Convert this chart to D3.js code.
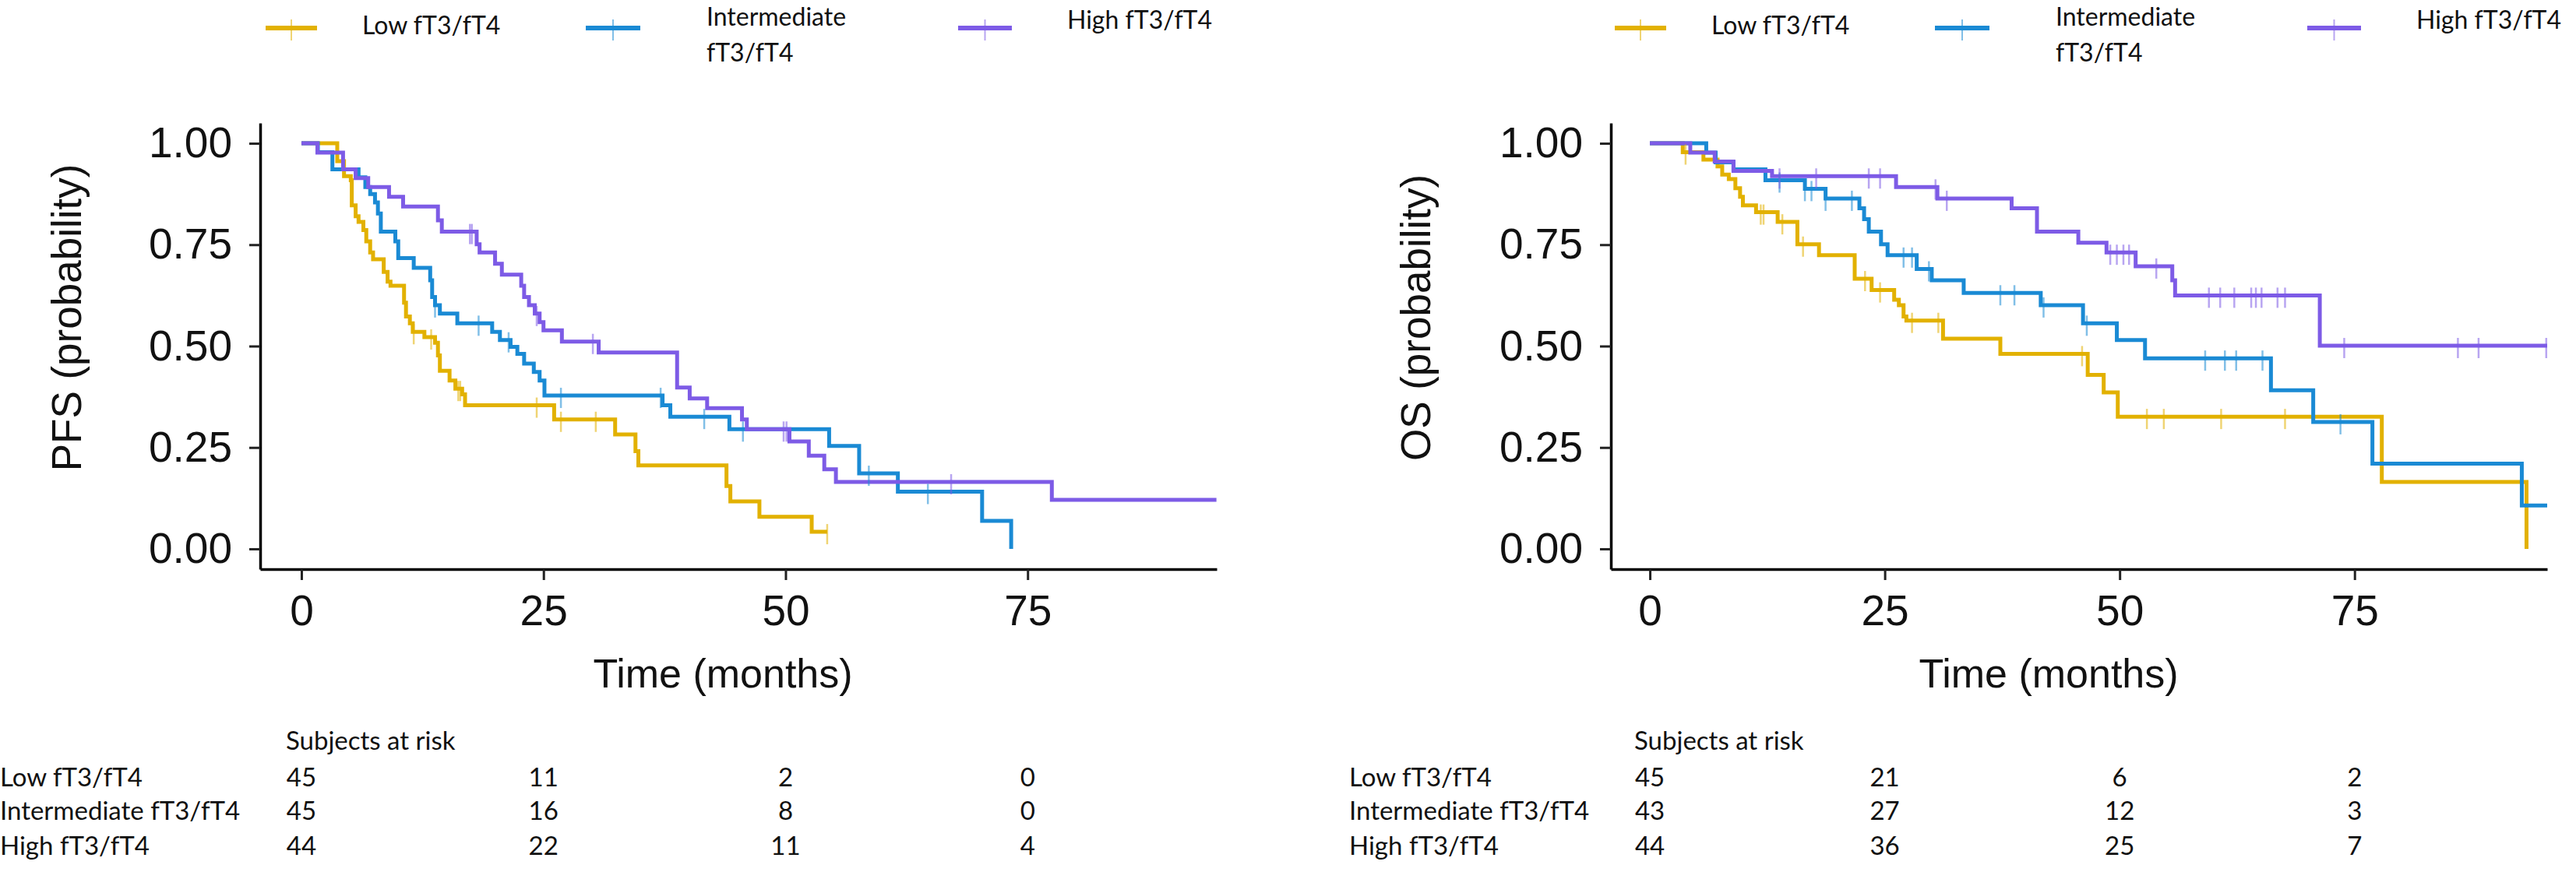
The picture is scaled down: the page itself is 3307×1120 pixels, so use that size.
<!DOCTYPE html>
<html><head><meta charset="utf-8">
<script src="https://cdn.jsdelivr.net/npm/d3@7"></script>
<style>body{margin:0;background:#fff;} svg{display:block;background:#fff}</style>
</head><body>
<svg id="c" width="3307" height="1120"></svg>
<script>
// ---------- data ----------
const groups = ["Low fT3/fT4", "Intermediate fT3/fT4", "High fT3/fT4"];
const colors = ["#E2B100", "#1A8AD4", "#7D5BE6"];
const xTicks = [0, 25, 50, 75];
const yTicks = [0, 0.25, 0.5, 0.75, 1];
const riskTimes = [0, 25, 50, 75];

// PFS (left)
const pfsLowTime = [0,3.7,4.4,5.1,5.2,5.6,5.9,6.4,6.7,7.1,7.4,8.5,8.9,9.2,10.6,10.8,11.2,11.5,12.7,13.8,14.1,14.3,15.3,15.9,16.6,16.9,26.1,32.4,34.5,34.8,43.9,44.3,47.3,52.7,54.3];
const pfsLowSurv = [1,0.956,0.919,0.909,0.847,0.820,0.806,0.786,0.758,0.731,0.714,0.683,0.659,0.649,0.607,0.573,0.556,0.535,0.522,0.508,0.477,0.439,0.415,0.395,0.381,0.354,0.319,0.282,0.241,0.206,0.155,0.117,0.079,0.042,0.042];
const pfsLowCensor = [11.6,13.4,16.2,16.4,24.3,26.8,30.4,54.3];

const pfsInterTime = [0,1.7,3.2,5.9,6.6,7.1,7.6,7.9,8.2,9.7,10.0,11.6,13.3,13.5,13.8,14.3,16.1,19.7,20.5,21.6,22.3,23.0,24.0,24.6,25.1,37.3,38.1,44.2,54.5,57.6,61.6,70.3,73.3];
const pfsInterSurv = [1,0.978,0.936,0.916,0.892,0.875,0.854,0.827,0.782,0.758,0.717,0.693,0.662,0.621,0.601,0.580,0.556,0.535,0.515,0.498,0.481,0.457,0.436,0.415,0.378,0.354,0.326,0.295,0.254,0.186,0.141,0.069,0];
const pfsInterCensor = [13.8,18.3,21.4,26.8,37.1,41.6,45.6,58.6,64.7];

const pfsHighTime = [0,1.65,4.3,5.6,6.9,9.05,10.5,14.1,14.5,18.1,18.4,20.0,20.7,22.7,23.0,23.5,24.1,24.6,25.0,26.9,30.7,38.8,40.1,41.9,45.5,46.0,50.4,52.4,54.0,55.2,77.5,94.5];
const pfsHighSurv = [1,0.977,0.936,0.914,0.892,0.868,0.844,0.81,0.782,0.751,0.731,0.703,0.676,0.649,0.621,0.601,0.580,0.559,0.539,0.511,0.484,0.398,0.371,0.347,0.319,0.295,0.265,0.230,0.196,0.165,0.121,0.121];
const pfsHighCensor = [17.4,17.6,24.3,30.1,49.8,50.1,67.1];

// OS (right)
const osLowTime = [0,3.5,5.7,7.2,7.7,8.4,9.1,9.6,9.9,11.3,13.6,15.7,18.0,21.8,23.6,26.0,26.5,27.0,27.3,31.2,37.3,46.6,48.3,49.8,77.9,93.3];
const osLowSurv = [1,0.978,0.960,0.943,0.923,0.912,0.889,0.868,0.847,0.830,0.806,0.751,0.724,0.666,0.638,0.614,0.601,0.573,0.563,0.518,0.481,0.429,0.386,0.326,0.165,0];
const osLowCensor = [3.8,11.8,12.1,14.1,16.3,22.9,24.5,27.9,30.7,46.0,52.9,54.7,60.8,67.6];

const osInterTime = [0,6.0,7.0,8.9,12.3,16.5,18.7,22.3,22.8,23.3,24.6,25.3,28.4,30.0,33.4,41.6,46.1,49.7,52.7,66.1,70.6,76.9,92.8,95.5];
const osInterSurv = [1,0.977,0.953,0.936,0.909,0.888,0.864,0.840,0.813,0.782,0.751,0.724,0.690,0.662,0.631,0.601,0.556,0.515,0.470,0.391,0.313,0.210,0.107,0.107];
const osInterCensor = [13.8,16.5,17.2,18.7,21.5,27.0,27.9,29.7,37.3,38.8,41.9,46.5,59.1,61.2,62.4,65.2,73.5];

const osHighTime = [0,4.3,6.9,8.9,13.0,26.2,30.6,38.5,41.2,45.6,48.6,51.7,55.6,55.9,71.3,95.5];
const osHighSurv = [1,0.977,0.955,0.932,0.919,0.892,0.864,0.840,0.782,0.755,0.731,0.697,0.662,0.625,0.501,0.501];
const osHighCensor = [13.8,17.7,23.3,24.5,30.4,31.6,49.0,49.7,50.4,51.0,53.9,59.5,60.7,62.2,64.0,64.5,65.1,66.8,67.6,73.9,86.0,88.2,95.4];

// numbers at risk
const pfsRiskLow = [45, 11, 2, 0];
const pfsRiskInter = [45, 16, 8, 0];
const pfsRiskHigh = [44, 22, 11, 4];
const osRiskLow = [45, 21, 6, 2];
const osRiskInter = [43, 27, 12, 3];
const osRiskHigh = [44, 36, 25, 7];

// ---------- drawing ----------
const svg = d3.select("#c");
const TICKFONT = "'Liberation Sans', Arial, sans-serif";
const TABFONT = "Lato, 'Open Sans', sans-serif";

const panels = [
  { ox: 0, x0: 334, x1: 1562, dom: [-4.26, 94.53], ytitle: "PFS (probability)", xtitleX: 928,
    series: [[pfsLowTime, pfsLowSurv, pfsLowCensor], [pfsInterTime, pfsInterSurv, pfsInterCensor], [pfsHighTime, pfsHighSurv, pfsHighCensor]],
    risk: [pfsRiskLow, pfsRiskInter, pfsRiskHigh] },
  { ox: 1732, x0: 2068, x1: 3270, dom: [-4.15, 95.5], ytitle: "OS (probability)", xtitleX: 2630,
    series: [[osLowTime, osLowSurv, osLowCensor], [osInterTime, osInterSurv, osInterCensor], [osHighTime, osHighSurv, osHighCensor]],
    risk: [osRiskLow, osRiskInter, osRiskHigh] }
];

const yTop = 158, yBot = 731;

function survAt(times, surv, t) {
  let v = surv[0];
  for (let i = 0; i < times.length; i++) { if (times[i] <= t + 1e-9) v = surv[i]; }
  return v;
}

panels.forEach(p => {
  const x = d3.scaleLinear().domain(p.dom).range([p.x0, p.x1]);
  const y = d3.scaleLinear().domain([-0.05, 1.05]).range([yBot, yTop]);
  const g = svg.append("g");

  // curves
  const line = d3.line().x(d => x(d[0])).y(d => y(d[1])).curve(d3.curveStepAfter);
  p.series.forEach((s, i) => {
    const pts = s[0].map((t, k) => [t, s[1][k]]);
    g.append("path").attr("d", line(pts)).attr("fill", "none")
      .attr("stroke", colors[i]).attr("stroke-width", 5).attr("stroke-linejoin", "miter");
  });
  // censor marks
  p.series.forEach((s, i) => {
    g.selectAll(null).data(s[2]).enter().append("line")
      .attr("x1", d => x(d)).attr("x2", d => x(d))
      .attr("y1", d => y(survAt(s[0], s[1], d)) - 10)
      .attr("y2", d => y(survAt(s[0], s[1], d)) + 16)
      .attr("stroke", colors[i]).attr("stroke-opacity", 0.55).attr("stroke-width", 2.5);
  });

  // axes
  const ya = g.append("g").attr("transform", `translate(${p.x0},0)`)
    .call(d3.axisLeft(y).tickValues(yTicks).tickFormat(d3.format(".2f")).tickSize(14).tickPadding(22).tickSizeOuter(0));
  const xa = g.append("g").attr("transform", `translate(0,${yBot})`)
    .call(d3.axisBottom(x).tickValues(xTicks).tickFormat(d3.format("d")).tickSize(14).tickPadding(19).tickSizeOuter(0));
  [ya, xa].forEach(a => {
    a.select(".domain").attr("stroke", "#000").attr("stroke-width", 3.5);
    a.selectAll(".tick line").attr("stroke", "#222").attr("stroke-width", 3);
    a.selectAll(".tick text").attr("fill", "#111").style("font-family", TICKFONT).style("font-size", "55px");
  });

  // axis titles
  g.append("text").attr("x", p.xtitleX).attr("y", 883).attr("text-anchor", "middle")
    .style("font-family", TICKFONT).style("font-size", "52px").attr("fill", "#111").text("Time (months)");
  g.append("text").attr("transform", `translate(${p.ox + 104},408) rotate(-90)`).attr("text-anchor", "middle")
    .style("font-family", TICKFONT).style("font-size", "53px").attr("fill", "#111").text(p.ytitle);

  // legend
  const ox = p.ox;
  const legKeys = [[341, 407], [752, 822], [1230, 1299]];
  const legText = [[465, [44], ["Low fT3/fT4"]], [907, [33, 79], ["Intermediate", "fT3/fT4"]], [1370, [37], ["High fT3/fT4"]]];
  groups.forEach((gname, i) => {
    const k = legKeys[i];
    g.append("line").attr("x1", ox + k[0]).attr("x2", ox + k[1]).attr("y1", 36).attr("y2", 36)
      .attr("stroke", colors[i]).attr("stroke-width", 6);
    const cx = ox + (k[0] + k[1]) / 2;
    g.append("line").attr("x1", cx).attr("x2", cx).attr("y1", 25).attr("y2", 52)
      .attr("stroke", colors[i]).attr("stroke-opacity", 0.55).attr("stroke-width", 2);
    const lt = legText[i];
    lt[2].forEach((txt, j) => {
      g.append("text").attr("x", ox + lt[0]).attr("y", lt[1][j])
        .style("font-family", TABFONT).style("font-size", "32px").attr("fill", "#111").text(txt);
    });
  });

  // risk table
  g.append("text").attr("x", x(riskTimes[0]) - 20).attr("y", 963)
    .style("font-family", TABFONT).style("font-size", "33px").attr("fill", "#111").text("Subjects at risk");
  const rowY = [1010, 1053, 1098];
  groups.forEach((gname, i) => {
    g.append("text").attr("x", p.ox).attr("y", rowY[i])
      .style("font-family", TABFONT).style("font-size", "33px").attr("fill", "#111").text(gname);
    g.selectAll(null).data(p.risk[i]).enter().append("text")
      .attr("x", (d, j) => x(riskTimes[j])).attr("y", rowY[i]).attr("text-anchor", "middle")
      .style("font-family", TABFONT).style("font-size", "33px").attr("fill", "#111").text(d => d);
  });
});
</script>
</body></html>
